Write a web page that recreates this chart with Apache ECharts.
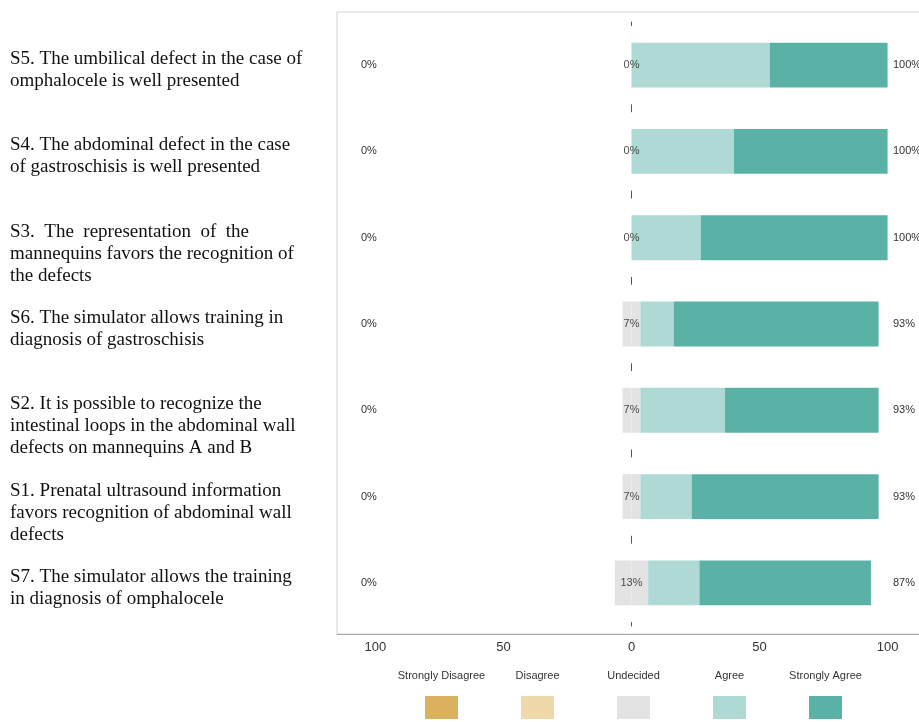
<!DOCTYPE html>
<html>
<head>
<meta charset="utf-8">
<script src="https://cdn.jsdelivr.net/npm/echarts@6/dist/echarts.min.js"></script>
<style>
	html, body { margin: 0; padding: 0; background: #fff; }
	#likert_chart { width: 919px; height: 722px; }
</style>
</head>
<body>
<div id="likert_chart"></div>
<script type="text/javascript">
// statements, top to bottom
var statements = [
	"S5. The umbilical defect in the case of\nomphalocele is well presented",
	"S4. The abdominal defect in the case\nof gastroschisis is well presented",
	"S3.  The  representation  of  the\nmannequins favors the recognition of\nthe defects",
	"S6. The simulator allows training in\ndiagnosis of gastroschisis",
	"S2. It is possible to recognize the\nintestinal loops in the abdominal wall\ndefects on mannequins A and B",
	"S1. Prenatal ultrasound information\nfavors recognition of abdominal wall\ndefects",
	"S7. The simulator allows the training\nin diagnosis of omphalocele"
];

// percentages per answer
var stronglyDisagree = [0, 0, 0, 0, 0, 0, 0];
var disagree = [0, 0, 0, 0, 0, 0, 0];
var undecided = [0, 0, 0, 7, 7, 7, 13];
var agree = [54, 40, 27, 13, 33, 20, 20];
var stronglyAgree = [46, 60, 73, 80, 60, 73, 67];

// x axis tick labels
var xTicks = [-100, -50, 0, 50, 100];

var answerNames = ["Strongly Disagree", "Disagree", "Undecided", "Agree", "Strongly Agree"];
var answerColors = ["#d9b15f", "#efd9ab", "#e3e3e3", "#aed9d5", "#5ab2a7"];

// totals shown on the left / middle / right
var leftPct = [], midPct = [], rightPct = [];
for (var i = 0; i < statements.length; i++) {
	leftPct.push((stronglyDisagree[i] + disagree[i]) + "%");
	midPct.push(undecided[i] + "%");
	rightPct.push((agree[i] + stronglyAgree[i]) + "%");
}
var undecidedNeg = undecided.map(function (v) { return -v / 2; });
var undecidedPos = undecided.map(function (v) { return v / 2; });
var negate = function (arr) { return arr.map(function (v) { return -v; }); };

var XMIN = -115, XMAX = 115;
var smallFont = { fontFamily: "Liberation Sans", fontSize: 11, color: "#333" };

// legend layout (icons with the name above)
var LEG_LEFT = 425, LEG_STEP = 96, LEG_ICON_W = 33, LEG_ICON_H = 23;

function barSeries(name, data, color) {
	return {
		name: name,
		type: "bar",
		stack: "likert",
		xAxisIndex: 1,
		yAxisIndex: 1,
		barWidth: "52%",
		itemStyle: { color: color },
		emphasis: { disabled: true },
		data: data
	};
}

var myChart = echarts.init(document.getElementById("likert_chart"), null, { renderer: "canvas" });

var gridBase = { left: 337, width: 589, outerBoundsMode: "none", containLabel: false };

var option = {
	animation: false,
	backgroundColor: "#fff",
	grid: [
		// frame + x axis
		Object.assign({ top: 12, height: 622, show: true, borderColor: "#d4d4d4", borderWidth: 1, backgroundColor: "transparent" }, gridBase),
		// bars
		Object.assign({ top: 22, height: 604 }, gridBase),
		// statement texts
		Object.assign({ top: 5, height: 604 }, gridBase)
	],
	xAxis: [
		{
			gridIndex: 0, type: "value", min: XMIN, max: XMAX,
			axisLine: { show: true, onZero: false, lineStyle: { color: "#a8a8a8", width: 1 } },
			axisTick: { show: false },
			splitLine: { show: false },
			axisLabel: {
				customValues: xTicks,
				margin: 7,
				fontFamily: "Liberation Sans", fontSize: 13, color: "#333",
				formatter: function (v) { return Math.abs(v); }
			}
		},
		{ gridIndex: 1, type: "value", min: XMIN, max: XMAX, show: false },
		{ gridIndex: 2, type: "value", min: XMIN, max: XMAX, show: false }
	],
	yAxis: [
		{ gridIndex: 0, type: "value", show: false },
		// zero line with short dashes between rows
		{
			gridIndex: 1, type: "category", data: statements, inverse: true,
			axisLine: { show: true, onZero: true, lineStyle: { color: "#555", width: 1, type: [7, 604 / 7 - 7], dashOffset: 3.5 } },
			axisTick: { show: false },
			axisLabel: { show: false }
		},
		// left percentages
		{
			gridIndex: 1, type: "category", data: leftPct, inverse: true, position: "left",
			axisLine: { show: false }, axisTick: { show: false },
			axisLabel: Object.assign({ inside: true, margin: 24, align: "left" }, smallFont)
		},
		// right percentages
		{
			gridIndex: 1, type: "category", data: rightPct, inverse: true, position: "right",
			axisLine: { show: false }, axisTick: { show: false },
			axisLabel: Object.assign({ inside: true, margin: 33, align: "left" }, smallFont)
		},
		// statements on the far left
		{
			gridIndex: 2, type: "category", data: statements, inverse: true,
			axisLine: { show: false }, axisTick: { show: false },
			axisLabel: {
				margin: 327, align: "left", verticalAlign: "top",
				fontFamily: "Liberation Serif", fontSize: 19, lineHeight: 22, color: "#111"
			}
		}
	],
	legend: {
		data: answerNames, left: LEG_LEFT, bottom: 3, padding: 0,
		itemWidth: LEG_ICON_W, itemHeight: LEG_ICON_H, itemGap: LEG_STEP - LEG_ICON_W,
		icon: "rect", selectedMode: false, formatter: function () { return ""; },
		textStyle: { fontSize: 1 }
	},
	// legend names sit above their swatches
	graphic: answerNames.map(function (name, k) {
		return {
			type: "text",
			style: {
				text: name, x: LEG_LEFT + k * LEG_STEP + LEG_ICON_W / 2, y: 676,
				align: "center", verticalAlign: "middle",
				font: "11px 'Liberation Sans'", fill: "#333"
			}
		};
	}),
	series: [
		barSeries("Strongly Disagree", negate(stronglyDisagree), answerColors[0]),
		barSeries("Disagree", negate(disagree), answerColors[1]),
		barSeries("Undecided", undecidedNeg, answerColors[2]),
		barSeries("Undecided", undecidedPos, answerColors[2]),
		barSeries("Agree", agree, answerColors[3]),
		barSeries("Strongly Agree", stronglyAgree, answerColors[4]),
		// middle (undecided) percentages, centred on zero
		{
			type: "scatter", xAxisIndex: 1, yAxisIndex: 1, symbolSize: 0, silent: true, z: 5,
			data: midPct.map(function (t, i) { return { value: [0, i], label: { formatter: t } }; }),
			label: { show: true, position: "inside", fontFamily: "Liberation Sans", fontSize: 11, color: "#222" }
		}
	]
};
myChart.setOption(option);
</script>
</body>
</html>
